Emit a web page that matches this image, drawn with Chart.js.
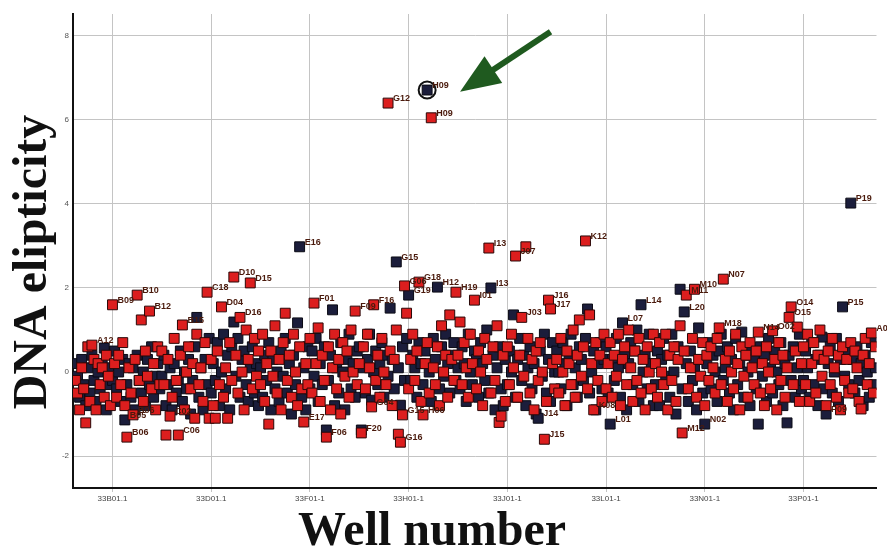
<!DOCTYPE html>
<html>
<head>
<meta charset="utf-8">
<script src="https://cdn.jsdelivr.net/npm/chart.js@4"></script>
<style>
    html, body { margin: 0; padding: 0; background: #fff; overflow: hidden; }
</style>
</head>
<body>
<canvas id="wellChart" width="887" height="550"></canvas>
<script>
// ellipticity per well position (index = position along the plate run), two replicate series
const redValues = [
    null, null, null, null, null, null, -0.2, -0.5, -0.9, 0.1, -0.4, -1.21, 0.6, -0.7, 0.64, 0.3, -0.9, 0.2, -0.3, 0.1, -0.6, 0.4, -0.1, -0.8,
    1.6, 0.2, -0.6, 0.4, -0.3, 0.7, -0.8, -1.55, 0.1, -0.5, -1.02, 0.3, 1.83, -0.2, 1.24, -0.7, 0.5, -0.1, 1.45, -0.4, 0.2, -0.9, 0.6, -0.3,
    0.5, -0.3, -1.5, 0.3, -1.05, -0.6, 0.8, -0.2, -1.5, 0.4, 1.12, -0.9, 0.0, 0.6, -0.4, 0.2, -1.1, 0.9, -0.3, 0.1, -0.7, 0.7, 1.9, -1.1,
    0.3, -0.8, -1.1, 0.5, -0.3, 1.55, -0.6, 0.1, -1.1, 0.7, -0.2, 2.26, 0.4, -0.5, 1.3, 0.0, -0.9, 1.0, 0.3, 2.12, -0.4, 0.8, -0.1, 0.5,
    -0.3, 0.9, -0.7, 0.2, -1.24, 0.5, -0.1, 1.1, -0.5, 0.3, -0.9, 0.7, 1.4, -0.2, 0.4, -0.6, 0.9, 0.0, -0.8, 0.6, -0.4, -1.19, 0.2, -0.3,
    0.8, -0.5, 1.64, 0.2, 1.05, -0.7, 0.4, -0.2, -1.55, 0.6, -0.9, 0.1, 0.9, -0.4, 0.3, -1.0, 0.7, -0.1, 0.5, -0.6, 1.0, 0.0, 1.45, -0.3,
    0.2, -1.45, 0.6, -0.4, 0.9, 0.1, -0.83, 1.6, -0.2, 0.4, -0.6, 0.8, 0.0, -0.3, 6.40, 0.5, -0.8, 0.3, 1.0, -1.48, -1.67, -1.02, 2.05, 1.4,
    -0.4, 0.3, 0.9, -0.2, 0.5, 2.14, -0.7, -1.02, 0.2, 0.7, -0.5, 6.05, 0.1, -0.3, 0.6, -0.8, 1.1, 0.0, 0.4, -0.6, 1.36, 0.3, -0.2, 1.9,
    0.4, 1.19, -0.3, 0.7, 0.1, -0.6, 0.9, 0.2, 1.71, -0.4, 0.5, 0.0, -0.8, 0.8, 0.3, 2.95, -0.5, 0.6, -0.2, 1.1, -1.2, -1.05, 0.4, -0.7,
    0.6, -0.3, 0.9, 0.1, 2.76, -0.6, 0.4, 1.3, -0.1, 2.98, 0.8, -0.5, 0.3, -0.9, 0.5, -0.2, 0.7, 0.0, -1.6, -0.7, 1.71, 1.5, 0.2, -0.4,
    0.3, -0.5, 0.8, 0.0, -0.8, 0.5, 0.2, -0.3, 1.0, -0.6, 0.4, 1.24, -0.1, 0.6, 3.12, -0.4, 1.36, 0.2, -0.9, 0.7, -0.2, 0.4, -0.7, 0.9,
    -0.4, 0.2, 0.7, -0.6, 0.4, -0.1, 0.9, -0.8, 0.3, 0.6, -0.3, 1.0, 0.1, -0.7, 0.5, -0.2, 0.8, -0.5, 0.3, -0.9, 0.6, 0.0, -0.4, 0.9,
    0.2, -0.6, 0.7, 0.0, -0.3, 0.9, -0.9, 0.4, -0.2, 0.6, -0.7, 0.3, 1.1, -1.45, 0.5, 1.83, -0.4, 0.1, 0.8, 1.97, -0.6, 0.3, -0.1, 0.7,
    -0.8, 0.4, -0.2, 0.6, 0.1, -0.5, 0.8, 1.05, -0.3, 2.21, 0.3, -0.7, 0.5, 0.0, -0.4, 0.9, 0.2, -0.9, 0.6, -0.1, 0.4, -0.6, 0.7, 0.1,
    -0.3, 0.5, 0.95, -0.5, 0.2, -0.8, 0.6, 0.0, -0.4, 0.98, 0.3, -0.9, 0.7, -0.2, 0.4, -0.6, 0.1, 1.3, 1.55, -0.3, 0.5, 1.07, -0.7, 0.2,
    0.6, -0.3, 0.9, -0.7, 0.2, 0.7, -0.5, 0.4, 1.0, -0.1, 0.3, -0.8, 0.5, -0.3, 0.8, 0.1, -0.6, 0.4, -0.9, 0.6, -0.2, 0.3, -0.5, 0.7,
    -0.4, 0.5, 0.1, -0.7, -0.88, 0.4, 0.8, -0.3, 0.2, 0.93, -0.5, 0.6
];
const navyValues = [
    null, null, null, null, null, null, 0.2, -0.1, -0.6, 0.3, -0.3, -0.8, 0.1, -0.5, 0.4, -0.2, -0.7, 0.0, -0.4, 0.2, 0.57, -0.9, -0.3, 0.1,
    -0.2, 0.5, -0.4, 0.0, -0.7, 0.3, -1.14, -0.3, 0.2, -0.6, 0.1, -0.9, 0.4, -0.2, -0.5, 0.0, -0.8, 0.3, -0.3, 0.6, -0.6, -0.1, 0.2, -0.4,
    -0.1, 0.4, -0.8, -0.3, 0.1, -0.9, 0.2, -0.5, -0.2, 0.5, -0.7, 0.0, -0.4, 0.3, -1.0, -0.2, 0.6, 1.3, -0.6, 0.1, -0.9, 0.3, -0.3, 0.8,
    -0.5, 0.2, -0.2, 0.7, -0.8, 0.0, 0.9, -0.4, 0.4, -0.9, 0.6, 1.19, -0.1, 0.8, -0.6, 0.3, 0.5, -0.3, -0.7, 0.1, 0.6, -0.5, 0.2, -0.8,
    0.1, -0.6, 0.4, -0.2, 0.7, -0.9, 0.3, -0.4, 0.0, -0.7, 0.5, -0.1, 0.8, -0.5, 0.2, -1.0, 0.4, -0.3, 1.17, 2.98, -0.6, 0.1, -0.9, 0.6,
    -0.4, 0.5, -0.1, 0.8, -0.7, 0.2, -0.3, 0.6, -1.38, -0.2, 0.4, 1.48, -0.8, 0.1, -0.5, 0.7, 0.0, -0.9, 0.3, 0.9, -0.4, 0.2, -0.6, 0.5,
    0.6, -1.38, 0.1, -0.5, 0.3, 0.9, -0.67, 0.0, 0.5, -0.3, 0.2, 0.7, -0.6, 0.4, -0.1, 1.52, 0.3, -0.4, 2.62, 0.1, -0.79, 0.6, -0.2, 0.8,
    1.83, -0.2, 0.4, 0.1, -0.6, 0.7, 0.2, -0.3, 0.5, 6.71, 0.0, -0.7, 0.8, 0.3, 2.02, -0.4, 0.6, -0.1, 0.9, 0.2, -0.5, 0.4, 0.7, -0.2,
    0.1, -0.4, 0.6, 0.2, -0.7, 0.9, 0.0, -0.3, 0.5, 0.3, -0.6, 0.7, 0.2, -0.2, 1.0, -0.5, 2.0, 0.4, -0.9, 0.1, 0.6, -0.4, -0.8, 0.3,
    -0.3, 0.5, 0.0, 1.36, -0.6, 0.3, 0.8, -0.2, 0.4, -0.8, 0.1, 0.6, -0.4, 0.2, -1.0, -1.1, 0.5, -0.1, 0.9, -0.5, 0.3, -0.7, 0.7, 0.0,
    0.5, 0.0, -0.4, 0.7, 0.2, -0.8, 0.4, 0.9, -0.3, 0.1, -0.6, 0.6, 0.3, -0.2, 0.8, 1.5, -0.5, 0.0, 0.5, -0.9, 0.2, 0.7, -0.4, 0.3,
    0.6, -0.5, -1.24, 0.3, -0.2, 0.8, 0.1, -0.6, 1.17, 0.4, -0.9, 0.2, 0.7, -0.3, 0.5, 1.0, -0.7, 1.6, 0.0, 0.4, -0.4, 0.9, 0.2, -0.8,
    -0.3, 0.5, -0.8, 0.3, 0.8, -0.1, 0.4, -0.6, 0.9, 0.0, -1.0, 0.6, 1.97, -0.4, 1.43, 0.2, -0.7, 0.5, -0.2, 0.1, -0.9, 1.05, 0.3, -0.5,
    -1.24, 0.2, 0.7, -0.4, 0.4, 0.0, -0.7, 0.5, 0.9, -0.2, 0.1, 0.6, -0.5, 0.3, -0.9, 0.8, -0.3, 0.2, 0.95, -0.6, 0.4, 0.0, -0.8, 0.5,
    0.3, -0.4, -1.24, 0.6, -0.1, 0.4, -0.7, 0.8, 0.1, -0.5, 0.5, 0.0, -0.3, 0.7, -0.8, 0.2, -1.21, 0.4, -0.2, 0.6, -0.6, 0.1, 0.9, -0.4,
    -0.2, 0.5, 0.1, -0.6, 0.7, -0.3, 0.3, -0.8, 0.4, 0.83, -0.4, -1.0, 0.2, 0.6, -0.5, 0.0, 0.8, -0.7, 0.3, 1.55, -0.1, 0.5, -0.3, 4.02,
    0.3, -0.5, 0.6, -0.2, 0.2, -0.8, 0.4, 0.0, -0.6, 0.7, -0.3, 0.1
];

// x axis ticks (well positions) and their labels
const xTickWells = [24, 72, 120, 168, 216, 264, 312, 360];
const xTickLabels = ['33B01.1', '33D01.1', '33F01-1', '33H01-1', '33J01-1', '33L01-1', '33N01-1', '33P01-1'];
const yTickValues = [-2, 0, 2, 4, 6, 8];

// well names written next to points: [series, position, name]
const pointLabels = [
    ['navy', 177, 'H09'], ['red', 179, 'H09'], ['red', 158, 'G12'], ['navy', 115, 'E16'], ['navy', 162, 'G15'],
    ['red', 207, 'I13'], ['navy', 208, 'I13'], ['red', 220, 'J07'], ['red', 254, 'K12'], ['navy', 383, 'P19'],
    ['red', 83, 'D10'], ['red', 91, 'D15'], ['red', 70, 'C18'], ['red', 36, 'B10'], ['red', 24, 'B09'],
    ['red', 42, 'B12'], ['red', 58, 'B15'], ['red', 77, 'D04'], ['red', 86, 'D16'], ['red', 14, 'A12'],
    ['navy', 30, 'B05'], ['red', 34, 'B06'], ['red', 31, 'B06'], ['red', 56, 'C06'], ['red', 52, 'C02'],
    ['red', 122, 'F01'], ['red', 117, 'E17'], ['red', 128, 'F06'], ['red', 145, 'F20'], ['red', 164, 'G16'],
    ['red', 165, 'G15'], ['red', 175, 'H06'], ['red', 150, 'G04'], ['red', 166, 'G06'], ['red', 173, 'G18'],
    ['navy', 182, 'H12'], ['navy', 168, 'G19'], ['red', 191, 'H19'], ['red', 200, 'I01'], ['red', 236, 'J16'],
    ['red', 237, 'J17'], ['red', 223, 'J03'], ['red', 234, 'J15'], ['navy', 231, 'J14'], ['red', 258, 'K08'],
    ['navy', 266, 'L01'], ['red', 301, 'M12'], ['navy', 312, 'N02'], ['navy', 371, 'P09'], ['navy', 281, 'L14'],
    ['navy', 302, 'L20'], ['navy', 272, 'L07'], ['red', 307, 'M10'], ['red', 303, 'M11'], ['red', 321, 'N07'],
    ['red', 354, 'O14'], ['red', 353, 'O15'], ['navy', 379, 'P15'], ['red', 393, 'A01'], ['red', 319, 'M18'],
    ['red', 338, 'N14'], ['red', 345, 'O02'], ['red', 142, 'F09'], ['red', 151, 'F16']
];

// highlighted hit and the arrow pointing at it (data coordinates)
const circledWell = 177;
const arrowFrom = [237, 8.1];
const arrowTo = [193, 6.67];

const toPoints = values => values
    .map((v, i) => ({ x: i, y: v }))
    .filter(p => p.y !== null);

const valueOf = (series, well) => series === 'red' ? redValues[well] : navyValues[well];

const labelPlugin = {
    id: 'wellLabels',
    afterDatasetsDraw(chart) {
        const { ctx, scales } = chart;
        ctx.save();
        ctx.font = 'bold 9px "Liberation Sans", Arial, sans-serif';
        ctx.fillStyle = '#4a1a0c';
        ctx.textBaseline = 'alphabetic';
        pointLabels.forEach(([series, well, name]) => {
            const px = scales.x.getPixelForValue(well);
            const py = scales.y.getPixelForValue(valueOf(series, well));
            ctx.fillText(name, px + 5, py - 2);
        });
        ctx.restore();
    }
};

const arrowPlugin = {
    id: 'hitArrow',
    afterDatasetsDraw(chart) {
        const { ctx, scales } = chart;
        const x1 = scales.x.getPixelForValue(arrowFrom[0]), y1 = scales.y.getPixelForValue(arrowFrom[1]);
        const x2 = scales.x.getPixelForValue(arrowTo[0]), y2 = scales.y.getPixelForValue(arrowTo[1]);
        const ang = Math.atan2(y2 - y1, x2 - x1);
        const headLen = 40, headHalf = 16;
        const bx = x2 - headLen * Math.cos(ang), by = y2 - headLen * Math.sin(ang);
        ctx.save();
        ctx.strokeStyle = '#1f5a1f';
        ctx.fillStyle = '#1f5a1f';
        ctx.lineWidth = 6;
        ctx.beginPath();
        ctx.moveTo(x1, y1);
        ctx.lineTo(bx + 2 * Math.cos(ang), by + 2 * Math.sin(ang));
        ctx.stroke();
        ctx.beginPath();
        ctx.moveTo(x2, y2);
        ctx.lineTo(bx + headHalf * Math.sin(ang), by - headHalf * Math.cos(ang));
        ctx.lineTo(bx - headHalf * Math.sin(ang), by + headHalf * Math.cos(ang));
        ctx.closePath();
        ctx.fill();
        ctx.restore();
    }
};

const titlePlugin = {
    id: 'axisTitles',
    afterDraw(chart) {
        const { ctx } = chart;
        ctx.save();
        ctx.fillStyle = '#111';
        ctx.font = 'bold 48px "Liberation Serif", "Times New Roman", serif';
        ctx.textAlign = 'center';
        ctx.textBaseline = 'alphabetic';
        ctx.fillText('Well number', 432, 545);
        ctx.translate(46, 262);
        ctx.rotate(-Math.PI / 2);
        ctx.fillText('DNA elipticity', 0, 0);
        ctx.restore();
    }
};

const ctx = document.getElementById('wellChart');
const wellChart = new Chart(ctx, {
    type: 'scatter',
    data: {
        datasets: [
            {
                label: 'hit',
                data: [{ x: circledWell, y: navyValues[circledWell] }],
                pointStyle: 'circle',
                pointRadius: 8.5,
                backgroundColor: 'rgba(0,0,0,0)',
                borderColor: '#111',
                borderWidth: 2
            },
            {
                label: 'red',
                data: toPoints(redValues),
                pointStyle: 'rect',
                pointRadius: 7,
                backgroundColor: '#dc1e1e',
                borderColor: '#2a0808',
                borderWidth: 1
            },
            {
                label: 'navy',
                data: toPoints(navyValues),
                pointStyle: 'rect',
                pointRadius: 7,
                backgroundColor: '#1b1d3b',
                borderColor: '#0a0a14',
                borderWidth: 1
            }
        ]
    },
    options: {
        responsive: false,
        animation: false,
        layout: { padding: { left: 55, top: 14, right: 0, bottom: 0 } },
        plugins: {
            legend: { display: false },
            tooltip: { enabled: false }
        },
        scales: {
            x: {
                type: 'linear',
                min: 4.8,
                max: 395.5,
                afterBuildTicks: scale => { scale.ticks = xTickWells.map(v => ({ value: v })); },
                afterFit: scale => { scale.height = 62; },
                ticks: {
                    autoSkip: false,
                    maxRotation: 0,
                    padding: 2,
                    color: '#444',
                    font: { size: 8, family: '"Liberation Sans", Arial, sans-serif' },
                    callback: (value, index) => xTickLabels[index]
                },
                grid: { color: '#c4c4c4', lineWidth: 1, tickLength: 4 },
                border: { color: '#111', width: 2 }
            },
            y: {
                min: -2.76,
                max: 8.52,
                afterBuildTicks: scale => { scale.ticks = yTickValues.map(v => ({ value: v })); },
                afterFit: scale => { scale.width = 18; },
                ticks: {
                    padding: 4,
                    color: '#555',
                    font: { size: 8, family: '"Liberation Sans", Arial, sans-serif' },
                    callback: value => String(value)
                },
                grid: { color: '#c4c4c4', lineWidth: 1, drawTicks: false },
                border: { color: '#111', width: 2 }
            }
        }
    },
    plugins: [labelPlugin, arrowPlugin, titlePlugin]
});
</script>
</body>
</html>
